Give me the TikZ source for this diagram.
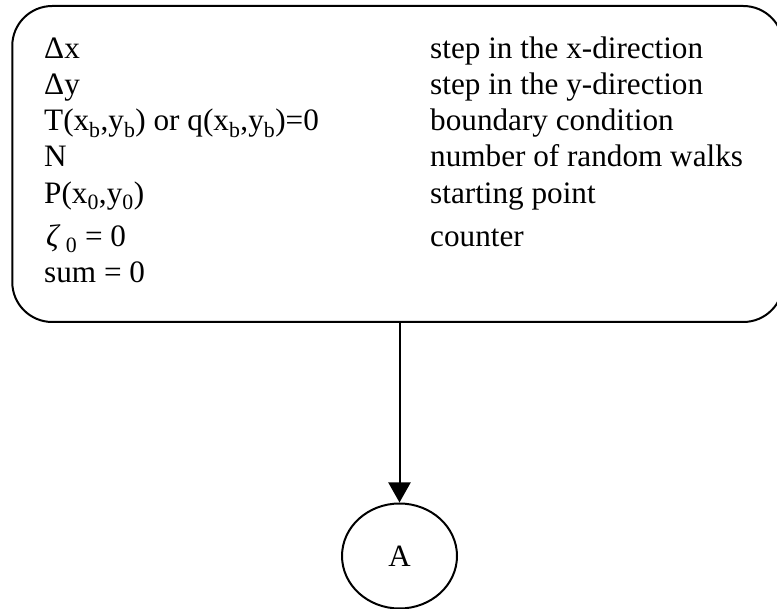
\documentclass[tikz,border=0pt]{standalone}
\usepackage{fontspec}
\setmainfont{Liberation Serif}
\usetikzlibrary{arrows.meta, shapes.geometric}
\tikzset{
    inputbox/.style={rectangle, draw, line width=2pt, rounded corners=40pt,
                     minimum width=771pt, minimum height=316pt, inner sep=0pt},
    connector/.style={ellipse, draw, line width=2pt, minimum width=115pt,
                      minimum height=105pt, inner sep=0pt, font=\fontsize{31}{37}\selectfont},
    symb/.style={anchor=base west, inner sep=0pt, font=\fontsize{31.2}{37}\selectfont},
    descr/.style={symb},
    flow/.style={-{Triangle[width=22pt, length=20pt]}, line width=2pt},
}
\begin{document}
\begin{tikzpicture}[x=1pt, y=-1pt]
    \useasboundingbox (0,0) rectangle (777,609);
    \clip (0,0) rectangle (777,609);
    \node[inputbox] (box) at (397.75,164) {};
    % symbols
    \node[symb] (dx)   at (44,59)  {Δx};
    \node[symb] (dy)   at (44,95)  {Δy};
    \node[symb] (bc)   at (44,131) {T(x\textsubscript{b},y\textsubscript{b}) or q(x\textsubscript{b},y\textsubscript{b})=0};
    \node[symb] (nw)   at (44,167) {N};
    \node[symb] (p0)   at (44,204) {P(x\textsubscript{0},y\textsubscript{0})};
    \node[symb] (zeta) at (46,247) {\textit{ζ}\,\textsubscript{0} = 0};
    \node[symb] (sum)  at (44,283) {sum = 0};
    % descriptions
    \node[descr] (ddx)   at (430,59)  {step in the x-direction};
    \node[descr] (ddy)   at (430,95)  {step in the y-direction};
    \node[descr] (dbc)   at (430,131) {boundary condition};
    \node[descr] (dnw)   at (430,167) {number of random walks};
    \node[descr] (dp0)   at (430,204) {starting point};
    \node[descr] (dzeta) at (430,247) {counter};
    % connector A
    \node[connector] (A) at (399.5,556) {A};
    \draw[flow] (A.north |- box.south) -- (A.north);
\end{tikzpicture}
\end{document}
